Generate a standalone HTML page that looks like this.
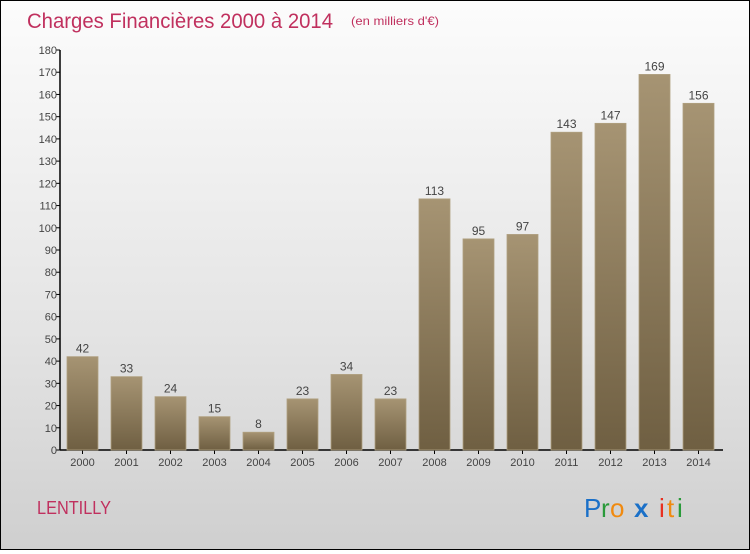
<!DOCTYPE html>
<html><head><meta charset="utf-8"><style>
body{margin:0;width:750px;height:550px;overflow:hidden;font-family:"Liberation Sans",sans-serif}
#root{position:relative;width:748px;height:548px;border:1px solid #000;background:linear-gradient(#fcfcfc,#e4e4e4 60%,#cfcfcf)}
</style></head><body>
<div id="root">
<svg id="chart" width="748" height="548">
<defs><linearGradient id="bg" x1="0" y1="0" x2="0" y2="1"><stop offset="0" stop-color="#a69473"/><stop offset="1" stop-color="#6f5f42"/></linearGradient></defs>
<text x="26" y="27" font-size="21" fill="#c0305e" textLength="306" lengthAdjust="spacingAndGlyphs">Charges Financières 2000 à 2014</text>
<text x="350" y="24" font-size="12" fill="#c0305e" textLength="88" lengthAdjust="spacingAndGlyphs">(en milliers d'€)</text>
<text x="36" y="513" font-size="18" fill="#c0305e" textLength="74" lengthAdjust="spacingAndGlyphs">LENTILLY</text>
<g font-size="26" font-family="'Liberation Sans',sans-serif">
<text x="583" y="516" fill="#1a70c8">P</text><text x="600" y="516" fill="#2a9a3a">r</text><text x="609" y="516" fill="#f08a10">o</text><text x="633" y="516" fill="#1a70c8" font-weight="bold">x</text><text x="658" y="516" fill="#e83020">i</text><text x="666" y="516" fill="#f08a10">t</text><text x="676" y="516" fill="#2a9a3a">i</text>
</g>
<g id="axes"></g><g id="bars"></g>
</svg></div>
<script>
const years=["2000","2001","2002","2003","2004","2005","2006","2007","2008","2009","2010","2011","2012","2013","2014"];
const values=[42,33,24,15,8,23,34,23,113,95,97,143,147,169,156];
const yTicks=[0,10,20,30,40,50,60,70,80,90,100,110,120,130,140,150,160,170,180];
const NS="http://www.w3.org/2000/svg";
const y0=449,yTop=49,yMax=180;
const yS=v=>y0-(y0-yTop)*v/yMax;
const xS=i=>66+i*44;
const bw=31;
function mk(t,a,p){const e=document.createElementNS(NS,t);for(const k in a)e.setAttribute(k,a[k]);p.appendChild(e);return e;}
const ax=document.getElementById('axes'),bs=document.getElementById('bars');
const yl=mk('line',{x1:59,x2:59,y1:yTop,y2:y0,stroke:'#000','stroke-width':1.5},ax);


yTicks.forEach(v=>{
 const y=yS(v);
 mk('line',{x1:55,x2:59,y1:y,y2:y,stroke:'#000'},ax);
 const t=mk('text',{x:56,y:y+4,'font-size':11,fill:'#444','text-anchor':'end'},ax);t.textContent=v;
 
 
});
values.forEach((v,i)=>{
 const x=xS(i),y=yS(v);
 const r=mk('rect',{x:x,y:y,width:bw,height:y0-y,fill:'url(#bg)',stroke:'#b0a080','stroke-width':0.8},bs);
 
 
 const t=mk('text',{x:x+bw/2,y:y-4,'font-size':12,fill:'#444','text-anchor':'middle'},bs);t.textContent=v;
 
 
 mk('line',{x1:x+bw/2,x2:x+bw/2,y1:y0,y2:y0+4,stroke:'#000'},ax);
 const l=mk('text',{x:x+bw/2,y:y0+16,'font-size':11,fill:'#444','text-anchor':'middle'},ax);l.textContent=years[i];
 
 
});
const xl=mk('line',{x1:59,x2:722,y1:y0,y2:y0,stroke:'#000','stroke-width':1.5},ax);


</script>
</body></html>
